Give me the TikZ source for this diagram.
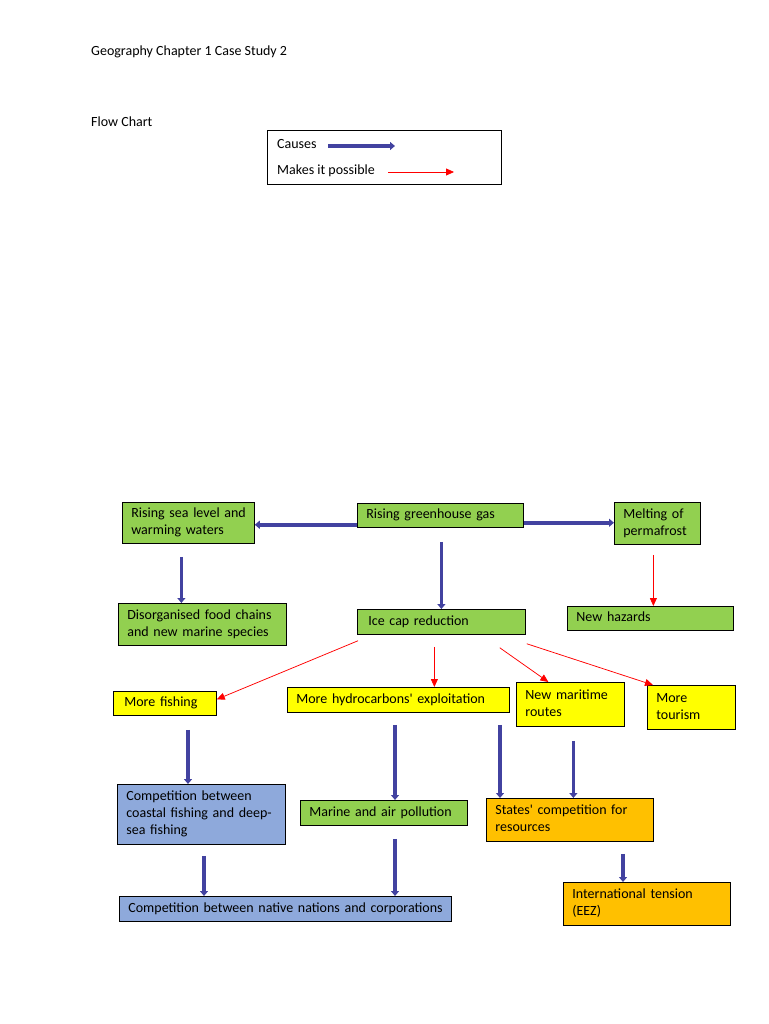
\documentclass[tikz,border=0pt]{standalone}
\usepackage{fontspec}
\setmainfont{Carlito}
\usepackage{tikz}
\usetikzlibrary{arrows.meta,calc,positioning}
\definecolor{boxgreen}{RGB}{146,208,80}
\definecolor{boxyellow}{RGB}{255,255,0}
\definecolor{boxblue}{RGB}{142,169,219}
\definecolor{boxorange}{RGB}{255,192,0}
\definecolor{causeblue}{RGB}{66,66,160}
\newcommand{\boxlines}[1]{\begin{tabular}{@{}l@{}}#1\end{tabular}} % lines that never wrap
\tikzset{
every node/.style={font=\fontsize{14}{17}\selectfont}, % text size of the whole chart
box/.style={draw, line width=0.75, anchor=north west, align=left, inner xsep=9, inner ysep=2},
plaintext/.style={anchor=west, inner sep=0},
causes/.style={draw=causeblue, line width=3.5, -{Triangle[length=5,width=8]}},
possible/.style={draw=red, line width=0.75, -{Triangle[length=8,width=7]}},
}

\begin{document}
\begin{tikzpicture}[x=1pt,y=1pt,yscale=-1,xscale=1]
		\useasboundingbox (0,0) rectangle (768,1024); %page of 768 by 1024
		
		% Headings
		\node [plaintext] (title) at (91,52) {Geography Chapter 1 Case Study 2};
		\node [plaintext] (flowchart) at (91,122) {Flow Chart};
		
		% Legend
		\node [box, minimum width=234, minimum height=54, inner sep=0] (legend) at (267,130) {};
		\node [plaintext] (causes) at (277,144) {Causes};
		\node [plaintext] (possible) at (277,171) {Makes it possible};
		\coordinate (causesa) at (328,146);
		\coordinate (causesb) at (395,146);
		\coordinate (possiblea) at (388,172);
		\coordinate (possibleb) at (454,172);
		\draw [causes] (causesa) -- (causesb);
		\draw [possible] (possiblea) -- (possibleb);
		
		% First row
		\node [box, fill=boxgreen, text width=114, minimum height=41] (sealevel) at (122,502) {\boxlines{Rising sea level and\\warming waters}};
		\node [box, fill=boxgreen, text width=148, minimum height=24] (greenhouse) at (357,503) {\boxlines{Rising greenhouse gas}};
		\node [box, fill=boxgreen, text width=68, minimum height=42] (permafrost) at (614,502) {\boxlines{Melting of\\permafrost}};
		
		% Second row
		\node [box, fill=boxgreen, text width=150, minimum height=42] (disorg) at (118,603) {\boxlines{Disorganised food chains\\and new marine species}};
		\node [box, fill=boxgreen, text width=146, minimum height=25, inner xsep=11] (icecap) at (357,609) {\boxlines{Ice cap reduction}};
		\node [box, fill=boxgreen, text width=148, minimum height=24] (hazards) at (567,606) {\boxlines{New hazards}};
		
		% Third row
		\node [box, fill=boxyellow, text width=81, minimum height=24, inner xsep=11] (fishing) at (113,691) {\boxlines{More fishing}};
		\node [box, fill=boxyellow, text width=204, minimum height=25] (hydro) at (287,687) {\boxlines{More hydrocarbons\textquotesingle{} exploitation}};
		\node [box, fill=boxyellow, text width=90, minimum height=44] (routes) at (516,682) {\boxlines{New maritime\\routes}};
		\node [box, fill=boxyellow, text width=70, minimum height=44] (tourism) at (647,685) {\boxlines{More\\tourism}};
		
		% Fourth row
		\node [box, fill=boxblue, text width=150, minimum height=60] (coastal) at (117,784) {\boxlines{Competition between\\coastal fishing and deep-\\sea fishing}};
		\node [box, fill=boxgreen, text width=149, minimum height=25] (marine) at (300,800) {\boxlines{Marine and air pollution}};
		\node [box, fill=boxorange, text width=149, minimum height=43] (states) at (486,798) {\boxlines{States\textquotesingle{} competition for\\resources}};
		
		% Last row
		\node [box, fill=boxblue, text width=314, minimum height=25] (native) at (119,896) {\boxlines{Competition between native nations and corporations}};
		\node [box, fill=boxorange, text width=149, minimum height=43] (tension) at (563,882) {\boxlines{International tension\\(EEZ)}};
		
		% Start points of the arrows
		\coordinate (gh1) at ([yshift=-3]greenhouse.south west);
		\coordinate (gh2) at ([yshift=-5]greenhouse.south east);
		\coordinate (gh3) at ([xshift=1,yshift=14]greenhouse.south);
		\coordinate (sl1) at ([xshift=-7,yshift=13]sealevel.south);
		\coordinate (pf1) at ([xshift=-4,yshift=10]permafrost.south);
		\coordinate (ic1) at ([xshift=1,yshift=6]icecap.south west);
		\coordinate (ic2) at ([xshift=-7,yshift=12]icecap.south);
		\coordinate (ic3) at ([xshift=-26,yshift=13]icecap.south east);
		\coordinate (ic4) at ([xshift=1,yshift=9]icecap.south east);
		\coordinate (mf1) at ([xshift=75,yshift=14]fishing.south west);
		\coordinate (hy1) at ([xshift=108,yshift=12]hydro.south west);
		\coordinate (hy2) at ([xshift=213,yshift=12]hydro.south west);
		\coordinate (nr1) at ([xshift=3,yshift=14]routes.south);
		\coordinate (sc1) at ([xshift=137,yshift=12]states.south west);
		\coordinate (cc1) at ([xshift=87,yshift=11]coastal.south west);
		\coordinate (mp1) at ([xshift=95,yshift=13]marine.south west);
		
		% Causes
		\draw [causes] (gh1) -- (gh1 -| sealevel.east);
		\draw [causes] (gh2) -- (gh2 -| permafrost.west);
		\draw [causes] (gh3) -- (gh3 |- icecap.north);
		\draw [causes] (sl1) -- (sl1 |- disorg.north);
		\draw [causes] (mf1) -- (mf1 |- coastal.north);
		\draw [causes] (hy1) -- (hy1 |- marine.north);
		\draw [causes] (hy2) -- (hy2 |- states.north);
		\draw [causes] (nr1) -- (nr1 |- states.north);
		\draw [causes] (sc1) -- (sc1 |- tension.north);
		\draw [causes] (cc1) -- (cc1 |- native.north);
		\draw [causes] (mp1) -- (mp1 |- native.north);
		
		% Makes it possible
		\draw [possible] (pf1) -- (pf1 |- hazards.north);
		\draw [possible] (ic1) -- ([yshift=-4]fishing.east);
		\draw [possible] (ic2) -- (ic2 |- hydro.north);
		\draw [possible] (ic3) -- ([xshift=-22]routes.north);
		\draw [possible] (ic4) -- ([xshift=6]tourism.north west);
		
\end{tikzpicture}
\end{document}
